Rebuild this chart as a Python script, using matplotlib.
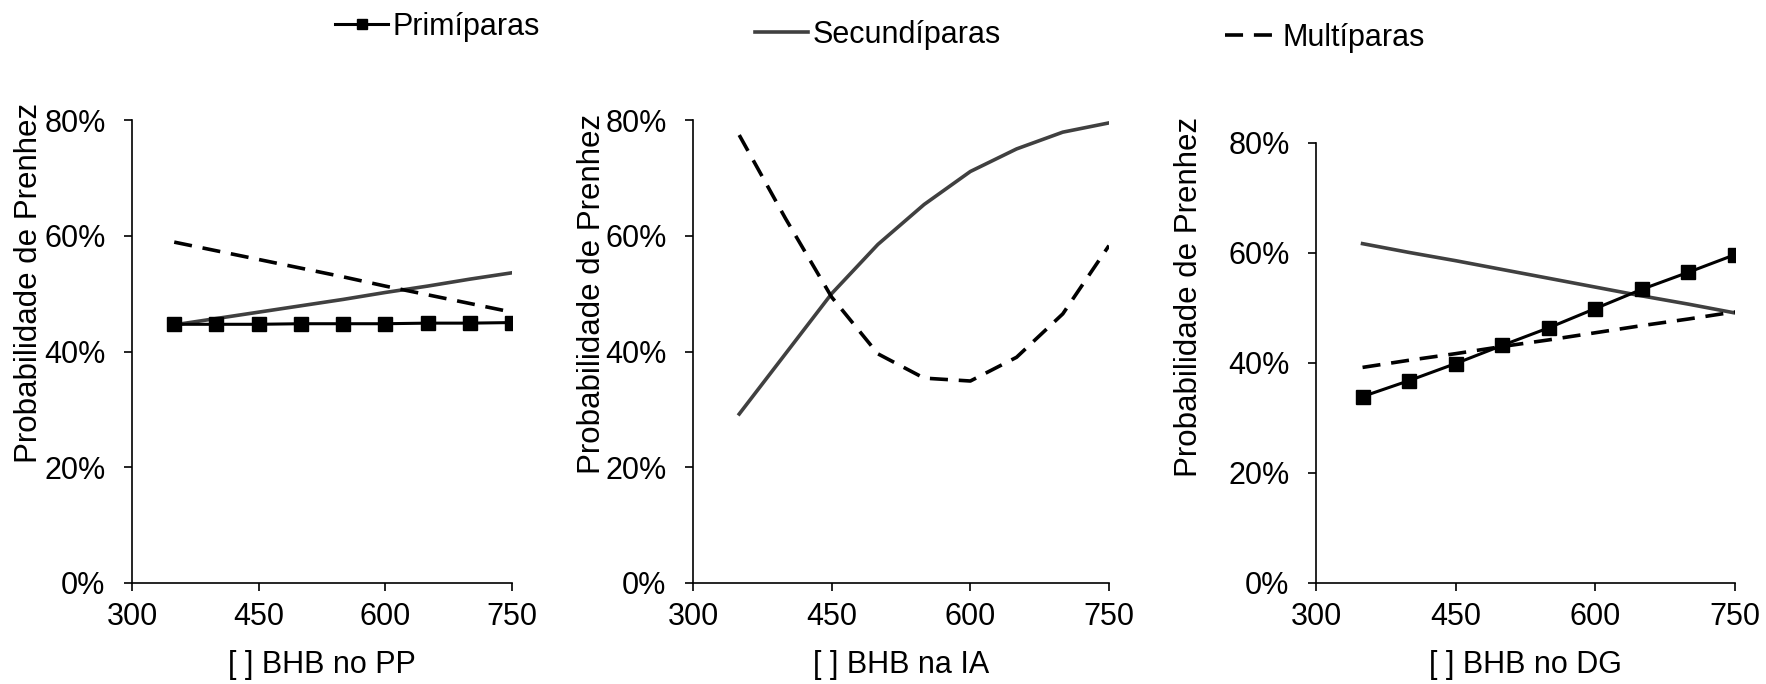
import numpy as np
import matplotlib
matplotlib.use("Agg")
import matplotlib.pyplot as plt
from matplotlib.ticker import PercentFormatter

plt.rcParams["font.family"] = ["Liberation Sans", "DejaVu Sans"]

doses = [350, 400, 450, 500, 550, 600, 650, 700, 750]
series_names = ["Primíparas", "Secundíparas", "Multíparas"]
xlabels = ["[ ] BHB no PP", "[ ] BHB na IA", "[ ] BHB no DG"]

# probabilidade de prenhez (%)
pp_prim = [44.7, 44.7, 44.7, 44.8, 44.8, 44.8, 44.9, 44.9, 45.0]
pp_sec = [44.6, 45.7, 46.8, 47.9, 49.0, 50.2, 51.3, 52.5, 53.6]
pp_mult = [58.9, 57.4, 55.9, 54.4, 52.9, 51.3, 49.8, 48.3, 46.8]

ia_sec = [29.2, 39.6, 50.0, 58.5, 65.4, 71.1, 75.0, 77.9, 79.5]
ia_mult = [77.4, 63.0, 49.4, 39.6, 35.4, 34.9, 39.0, 46.5, 58.3]

dg_prim = [33.9, 36.8, 39.9, 43.2, 46.4, 49.9, 53.4, 56.5, 59.7]
dg_sec = [61.7, 60.1, 58.6, 57.0, 55.4, 53.8, 52.2, 50.7, 49.1]
dg_mult = [39.2, 40.5, 41.7, 43.0, 44.2, 45.5, 46.8, 48.0, 49.3]

panels = [
    {"prim": pp_prim, "sec": pp_sec, "mult": pp_mult},
    {"prim": None, "sec": ia_sec, "mult": ia_mult},
    {"prim": dg_prim, "sec": dg_sec, "mult": dg_mult},
]

W, H = 1766, 684
# (left, right, top, bottom) in pixels
boxes = [(132, 512, 120, 583), (693, 1109, 120, 583), (1316, 1735, 143, 583)]
# y-label centre (x px, y px), Excel puts it a bit above the middle
ylab_pos = [(29, 283), (592, 294), (1189, 297)]

fig = plt.figure(figsize=(W / 100, H / 100), dpi=100)
handles = {}
for (l, r, t, b), (lx, ly), data, xl in zip(boxes, ylab_pos, panels,
                                             xlabels):
    ax = fig.add_axes([l / W, 1 - b / H, (r - l) / W, (b - t) / H])
    if data["prim"] is not None:
        h, = ax.plot(doses, data["prim"], color="black", lw=2.2,
                     marker="s", markersize=10, label=series_names[0],
                     zorder=3)
        handles[0] = h
    h, = ax.plot(doses, data["sec"], color="#404040", lw=2.6,
                 label=series_names[1], zorder=2)
    handles[1] = h
    h, = ax.plot(doses, data["mult"], color="black", lw=2.6,
                 linestyle=(0, (5, 3)), label=series_names[2], zorder=2)
    handles[2] = h
    ax.set_xlim(300, 750)
    ax.set_ylim(0, 80)
    ax.set_xticks([300, 450, 600, 750])
    ax.set_yticks([0, 20, 40, 60, 80])
    ax.yaxis.set_major_formatter(PercentFormatter(decimals=0))
    for side in ["top", "right"]:
        ax.spines[side].set_visible(False)
    for side in ["left", "bottom"]:
        ax.spines[side].set_linewidth(1.2)
    ax.tick_params(direction="out", length=6, width=1.2, labelsize=22)
    ax.tick_params(axis="x", pad=7.5)
    ax.tick_params(axis="y", pad=13)
    ax.set_xlabel(xl, fontsize=22, labelpad=13)
    ax.set_ylabel("Probabilidade de Prenhez", fontsize=22.5, va="center")
    ax.yaxis.set_label_coords((lx - l) / (r - l), (b - ly) / (b - t))

# legend entries sit at slightly different heights, as in the original
leg_pos = [(335, 27), (755, 35), (1225, 38)]
for i, (px, py) in enumerate(leg_pos):
    leg = fig.legend([handles[i]], [series_names[i]], loc="center left",
                     bbox_to_anchor=(px / W, 1 - py / H), frameon=False,
                     fontsize=22, handlelength=1.75, handletextpad=0.12,
                     borderpad=0, borderaxespad=0, markerscale=0.75)

fig.savefig("out.png", dpi=100)
